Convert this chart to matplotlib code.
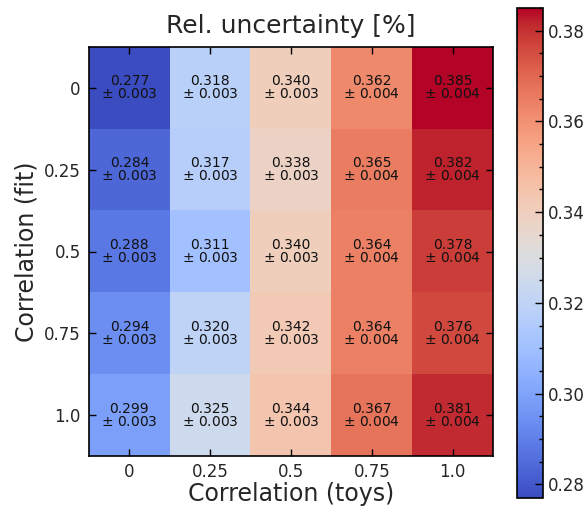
import numpy as np
import matplotlib
matplotlib.use("Agg")
import matplotlib.pyplot as plt
from matplotlib.ticker import MultipleLocator

# correlation settings
toys_labels = ["0", "0.25", "0.5", "0.75", "1.0"]
fit_labels = ["0", "0.25", "0.5", "0.75", "1.0"]

# rows: fit correlation, columns: toys correlation
rel_unc = np.array([
    [0.277, 0.318, 0.340, 0.362, 0.385],
    [0.284, 0.317, 0.338, 0.365, 0.382],
    [0.288, 0.311, 0.340, 0.364, 0.378],
    [0.294, 0.320, 0.342, 0.364, 0.376],
    [0.299, 0.325, 0.344, 0.367, 0.381],
])
rel_unc_err = np.array([
    [0.003, 0.003, 0.003, 0.004, 0.004],
    [0.003, 0.003, 0.003, 0.004, 0.004],
    [0.003, 0.003, 0.003, 0.004, 0.004],
    [0.003, 0.003, 0.003, 0.004, 0.004],
    [0.003, 0.003, 0.003, 0.004, 0.004],
])

text_col = "#262626"
fig = plt.figure(figsize=(5.88, 5.09), dpi=100)
ax = fig.add_axes([89 / 588, 1 - 456 / 509, 404 / 588, 409 / 509])
cax = fig.add_axes([517 / 588, 1 - 498 / 509, 26 / 588, 490 / 509])

im = ax.imshow(rel_unc, cmap="coolwarm", aspect="auto",
               vmin=rel_unc.min(), vmax=rel_unc.max(), interpolation="nearest")

for i in range(rel_unc.shape[0]):
    for j in range(rel_unc.shape[1]):
        ax.text(j, i, "{:.3f}\n$\\pm$ {:.3f}".format(rel_unc[i, j], rel_unc_err[i, j]),
                ha="center", va="center", fontsize=10, color="#111111",
                linespacing=0.9)

ax.set_xticks(range(len(toys_labels)))
ax.set_xticklabels(toys_labels)
ax.set_yticks(range(len(fit_labels)))
ax.set_yticklabels(fit_labels)
ax.tick_params(direction="in", top=True, right=True, length=5, width=1,
               labelsize=12, labelcolor=text_col)
ax.tick_params(axis="x", pad=5)
ax.tick_params(axis="y", pad=6)
for sp in ax.spines.values():
    sp.set_linewidth(1.2)

ax.set_xlabel("Correlation (toys)", fontsize=17, color=text_col, labelpad=1)
ax.set_ylabel("Correlation (fit)", fontsize=17, color=text_col, labelpad=4)
ax.set_title("Rel. uncertainty [%]", fontsize=18, color=text_col, pad=10)

cb = fig.colorbar(im, cax=cax)
cb.set_ticks([0.28, 0.30, 0.32, 0.34, 0.36, 0.38])
cb.ax.yaxis.set_minor_locator(MultipleLocator(0.005))
cb.ax.tick_params(which="major", direction="in", length=6, width=1,
                  labelsize=12, labelcolor=text_col)
cb.ax.tick_params(which="minor", direction="in", length=3, width=1)
cb.outline.set_linewidth(1.2)

fig.savefig("out.png", dpi=100)
